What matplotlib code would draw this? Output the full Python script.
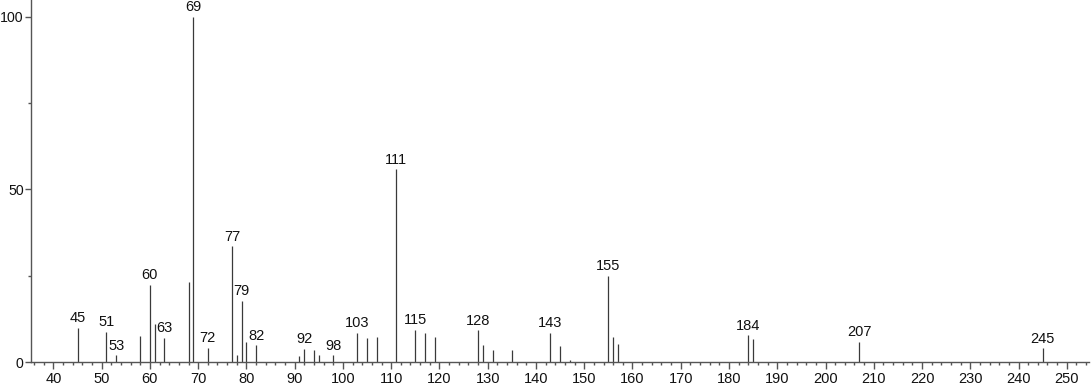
import matplotlib
matplotlib.use("Agg")
import matplotlib.pyplot as plt
from matplotlib.ticker import MultipleLocator

mz = [45, 51, 53, 58, 60, 61, 63, 68, 69, 72, 77, 78, 79, 80, 82,
      91, 92, 94, 95, 98, 103, 105, 107, 111, 115, 117, 119,
      128, 129, 131, 135, 143, 145, 147, 155, 156, 157,
      184, 185, 207, 245]
intensity = [9.9, 8.8, 2.0, 7.5, 22.3, 11.0, 7.0, 23.2, 100.0, 4.1, 33.5, 2.0, 17.7, 5.9, 4.9,
             1.8, 3.9, 3.5, 2.0, 2.0, 8.5, 7.1, 7.2, 55.8, 9.3, 8.5, 7.2,
             9.2, 4.9, 3.7, 3.5, 8.6, 4.6, 0.7, 25.0, 7.2, 5.2,
             7.8, 6.6, 5.9, 4.0]
labeled = [45, 51, 53, 60, 63, 69, 72, 77, 79, 82, 92, 98, 103, 111,
           115, 128, 143, 155, 184, 207, 245]

plt.rcParams['font.family'] = ['Liberation Sans', 'DejaVu Sans']

fig = plt.figure(figsize=(10.91, 3.87), dpi=100)
W, H = 1091, 387
left_px, right_px = 30.7, 1089.0
bottom_px = 387 - 362.3
ax = fig.add_axes([left_px / W, bottom_px / H, (right_px - left_px) / W, 1 - bottom_px / H])

axis_col = '#555555'
ax.vlines(mz, 0, intensity, colors='#3a3a3a', linewidth=0.9)

for m, v in zip(mz, intensity):
    if m in labeled:
        ax.annotate(str(m), xy=(m, v), xytext=(0, 2), textcoords='offset points',
                    ha='center', va='bottom', fontsize=10.5, color='#111111')

ax.set_xlim(35.3, 254.6)
ax.set_ylim(0, 104.8)

ax.spines['top'].set_visible(False)
ax.spines['right'].set_visible(False)
for s in ('left', 'bottom'):
    ax.spines[s].set_color(axis_col)
    ax.spines[s].set_linewidth(1.0)

ax.set_xticks(range(40, 251, 10))
ax.xaxis.set_minor_locator(MultipleLocator(2))
ax.yaxis.set_major_locator(MultipleLocator(50))
ax.yaxis.set_minor_locator(MultipleLocator(25))

ax.tick_params(axis='x', which='major', length=5, width=1.0, color=axis_col,
               labelsize=10.5, labelcolor='#111111', pad=2)
ax.tick_params(axis='y', which='major', length=4.6, width=1.0, color=axis_col,
               labelsize=10.2, labelcolor='#111111', pad=0.5)
ax.tick_params(axis='both', which='minor', length=2.5, width=1.0, color=axis_col)

fig.savefig('out.png', dpi=100)
